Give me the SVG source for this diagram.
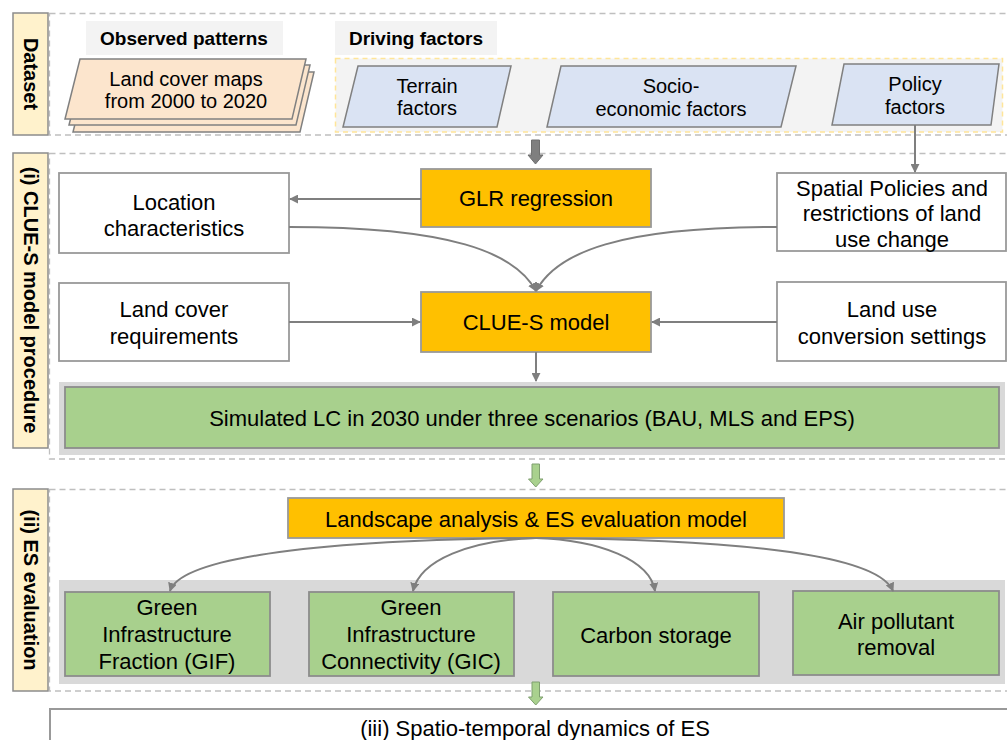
<svg xmlns="http://www.w3.org/2000/svg" width="1007" height="740" viewBox="0 0 1007 740">
<defs>
<marker id="ah" viewBox="0 0 10 10" refX="9" refY="5" markerWidth="9" markerHeight="9" markerUnits="userSpaceOnUse" orient="auto">
<path d="M0,0 L10,5 L0,10 z" fill="#7f7f7f"/>
</marker>
</defs>
<style>
text{font-family:"Liberation Sans",Arial,sans-serif;fill:#000;text-anchor:middle}
.t22{font-size:22px}
.t20{font-size:20px}
.b{font-weight:bold;font-size:20px}
.lbl{fill:#fff2cc;stroke:#8c8c8c;stroke-width:1.5}
.sec{fill:none;stroke:#bfbfbf;stroke-width:1.3;stroke-dasharray:6,4}
.wb{fill:#fff;stroke:#999;stroke-width:1.8}
.ob{fill:#ffc000;stroke:#999;stroke-width:1.8}
.gb{fill:#a8d08d;stroke:#8c8c8c;stroke-width:1.8}
.band{fill:#d9d9d9}
.pb{fill:#dae3f3;stroke:#808080;stroke-width:1.5}
.pp{fill:#fce5cd;stroke:#808080;stroke-width:1.5}
.cn{fill:none;stroke:#7f7f7f;stroke-width:2}
</style>

<!-- Section frames -->
<g id="section-dataset">
<rect class="sec" x="49.5" y="13.5" width="980" height="121.5"/>
<rect class="lbl" x="13" y="13" width="35" height="122"/>
<text class="b" transform="translate(31,74) rotate(90)" x="0" y="7">Dataset</text>
</g>
<g id="section-clue">
<rect class="sec" x="49.5" y="153.5" width="980" height="305.5"/>
<rect class="lbl" x="13" y="153" width="35" height="295"/>
<text class="b" transform="translate(31,300) rotate(90)" x="0" y="7">(i) CLUE-S model procedure</text>
</g>
<g id="section-es">
<rect class="sec" x="49.5" y="489.5" width="980" height="201.5"/>
<rect class="lbl" x="13" y="489" width="35" height="202"/>
<text class="b" transform="translate(31,590) rotate(90)" x="0" y="7">(ii) ES evaluation</text>
</g>

<!-- Dataset -->
<g id="observed-label">
<rect x="86" y="21" width="197" height="34" fill="#f3f3f3"/>
<text class="b" x="184" y="45" style="font-size:19px">Observed patterns</text>
</g>
<g id="landcover-maps">
<polygon class="pp" points="88,72 314,72 300,132 73,132"/>
<polygon class="pp" points="84,65 310,65 296,125 69,125"/>
<polygon class="pp" points="80,59 306,59 292,119 65,119"/>
<text class="t20" x="186" y="86">Land cover maps</text>
<text class="t20" x="186" y="108">from 2000 to 2020</text>
</g>
<g id="driving-label">
<rect x="335" y="21" width="162" height="34" fill="#f3f3f3"/>
<text class="b" x="416" y="45" style="font-size:19px">Driving factors</text>
</g>
<g id="driving-container">
<rect x="335.5" y="58.5" width="667" height="73.5" fill="#f3f3f3" stroke="#ffe599" stroke-width="1.5" stroke-dasharray="5,4"/>
</g>
<g id="terrain">
<polygon class="pb" points="358,66 511,66 497,127 343,127"/>
<text class="t20" x="427" y="93">Terrain</text>
<text class="t20" x="427" y="115">factors</text>
</g>
<g id="socio">
<polygon class="pb" points="561,66 796,66 781,127 547,127"/>
<text class="t20" x="671" y="93">Socio-</text>
<text class="t20" x="671" y="116">economic factors</text>
</g>
<g id="policy">
<polygon class="pb" points="844,64 999,64 991,125 832,125"/>
<text class="t20" x="915" y="91">Policy</text>
<text class="t20" x="915" y="114">factors</text>
</g>

<!-- CLUE-S -->
<g id="location">
<rect class="wb" x="59" y="173" width="230" height="80"/>
<text class="t22" x="174" y="210">Location</text>
<text class="t22" x="174" y="236">characteristics</text>
</g>
<g id="glr">
<rect class="ob" x="421" y="169" width="230" height="58"/>
<text class="t22" x="536" y="206">GLR regression</text>
</g>
<g id="spatial-policies">
<rect class="wb" x="777" y="173" width="229" height="78"/>
<text class="t22" x="892" y="196">Spatial Policies and</text>
<text class="t22" x="892" y="221">restrictions of land</text>
<text class="t22" x="892" y="247">use change</text>
</g>
<g id="landcover-req">
<rect class="wb" x="59" y="283" width="230" height="78"/>
<text class="t22" x="174" y="317">Land cover</text>
<text class="t22" x="174" y="344">requirements</text>
</g>
<g id="clues-model">
<rect class="ob" x="421" y="292" width="230" height="60"/>
<text class="t22" x="536" y="330">CLUE-S model</text>
</g>
<g id="conversion">
<rect class="wb" x="777" y="282" width="229" height="79"/>
<text class="t22" x="892" y="317">Land use</text>
<text class="t22" x="892" y="344">conversion settings</text>
</g>
<g id="simulated">
<rect class="band" x="59" y="382" width="946" height="73"/>
<rect class="gb" x="65" y="387" width="934" height="61"/>
<text class="t22" x="532" y="426">Simulated LC in 2030 under three scenarios (BAU, MLS and EPS)</text>
</g>

<!-- ES evaluation -->
<g id="landscape">
<rect class="ob" x="288" y="498" width="496" height="40"/>
<text class="t22" x="536" y="527">Landscape analysis &amp; ES evaluation model</text>
</g>
<rect class="band" x="59" y="580" width="946" height="104"/>
<g id="gif">
<rect class="gb" x="65" y="592" width="205" height="84"/>
<text class="t22" x="167" y="615">Green</text>
<text class="t22" x="167" y="642">Infrastructure</text>
<text class="t22" x="167" y="669">Fraction (GIF)</text>
</g>
<g id="gic">
<rect class="gb" x="309" y="592" width="205" height="84"/>
<text class="t22" x="411" y="615">Green</text>
<text class="t22" x="411" y="642">Infrastructure</text>
<text class="t22" x="411" y="669">Connectivity (GIC)</text>
</g>
<g id="carbon">
<rect class="gb" x="553" y="592" width="206" height="84"/>
<text class="t22" x="656" y="643">Carbon storage</text>
</g>
<g id="air">
<rect class="gb" x="793" y="591" width="206" height="84"/>
<text class="t22" x="896" y="629">Air pollutant</text>
<text class="t22" x="896" y="655">removal</text>
</g>

<g id="spatio-temporal">
<rect x="50" y="709" width="980" height="60" fill="#fff" stroke="#999" stroke-width="2"/>
<text class="t22" x="535" y="736">(iii) Spatio-temporal dynamics of ES</text>
</g>

<!-- Connectors -->
<g id="connectors">
<polygon points="531.5,140 539.5,140 539.5,155 543,155 535.5,164 528,155 531.5,155" fill="#7f7f7f" stroke="#6f6f6f" stroke-width="1"/>
<path class="cn" d="M915,125 L915,172" marker-end="url(#ah)"/>
<path class="cn" d="M421,199 L290,199" marker-end="url(#ah)"/>
<path class="cn" d="M289,227 C450,227 515,252 536,291" marker-end="url(#ah)"/>
<path class="cn" d="M777,227 C620,227 557,252 536,291" marker-end="url(#ah)"/>
<path class="cn" d="M289,322 L420,322" marker-end="url(#ah)"/>
<path class="cn" d="M777,322 L652,322" marker-end="url(#ah)"/>
<path class="cn" d="M536,352 L536,381" marker-end="url(#ah)"/>
<polygon points="532,464 539.5,464 539.5,479 543,479 535.75,487 528.5,479 532,479" fill="#a9d18e" stroke="#7f9f6f" stroke-width="1"/>
<path class="cn" d="M536,538 C300,540 180,560 170,591" marker-end="url(#ah)"/>
<path class="cn" d="M536,538 C470,540 420,560 413,591" marker-end="url(#ah)"/>
<path class="cn" d="M536,538 C600,540 650,560 655,591" marker-end="url(#ah)"/>
<path class="cn" d="M536,538 C780,540 880,560 893,591" marker-end="url(#ah)"/>
<polygon points="532,682 539.5,682 539.5,697 543,697 535.75,705 528.5,697 532,697" fill="#a9d18e" stroke="#7f9f6f" stroke-width="1"/>
</g>
</svg>
